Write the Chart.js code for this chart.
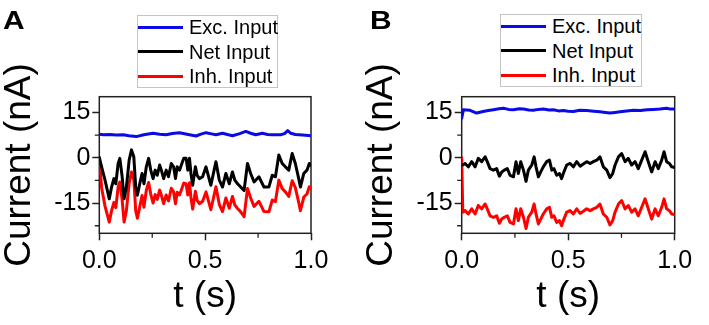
<!DOCTYPE html>
<html><head><meta charset="utf-8">
<script src="https://cdn.jsdelivr.net/npm/chart.js@4/dist/chart.umd.min.js"></script>
<style>
html,body{margin:0;padding:0;background:#fff;}
body{width:709px;height:325px;position:relative;overflow:hidden;font-family:"Liberation Sans",Arial,sans-serif;color:#000;}
canvas{position:absolute;top:0;}
.letter{position:absolute;top:7px;font-weight:bold;font-size:26px;line-height:26px;transform:scaleX(1.15);transform-origin:0 0;}
.legend{position:absolute;border:1px solid #c4c4c4;box-sizing:border-box;background:#fff;}
.row{position:absolute;left:0;height:24.5px;display:flex;align-items:center;font-size:20px;line-height:24px;white-space:nowrap;}
.sw{width:45px;height:3px;margin-right:6px;flex:none;}
</style></head><body>
<canvas id="cA" width="354" height="325" style="left:0"></canvas>
<canvas id="cB" width="347" height="325" style="left:362px"></canvas>
<div class="letter" style="left:3px">A</div>
<div class="letter" style="left:370px">B</div>
<div class="legend" id="lgA" style="left:137px;top:15px;width:141px;height:73px"></div>
<div class="legend" id="lgB" style="left:500px;top:14px;width:142px;height:73px"></div>
<script>
// ---------- data ----------
const seriesLabels = ['Exc. Input', 'Net Input', 'Inh. Input'];

// Panel A
const timeExcA = [0,0.02,0.05,0.08,0.113,0.14,0.175,0.21,0.254,0.285,0.316,0.345,0.379,0.42,0.457,0.48,0.504,0.53,0.551,0.582,0.61,0.629,0.66,0.692,0.715,0.739,0.77,0.795,0.817,0.856,0.875,0.89,0.905,0.926,0.96,1.0];
const excA = [7.8,7.6,7.7,7.5,7.6,7.3,7.0,7.6,8.1,7.8,7.6,8.0,8.3,7.7,7.2,7.8,8.3,7.9,7.6,8.1,7.6,7.3,7.9,8.7,8.1,7.6,8.1,7.7,7.6,7.6,8.0,9.0,8.1,7.7,7.5,7.3];
const timeA = [0,0.011,0.027,0.047,0.058,0.069,0.078,0.089,0.097,0.108,0.117,0.128,0.141,0.152,0.163,0.172,0.180,0.191,0.202,0.211,0.222,0.233,0.243,0.254,0.264,0.274,0.285,0.293,0.304,0.316,0.327,0.340,0.351,0.360,0.368,0.379,0.390,0.399,0.410,0.418,0.426,0.433,0.441,0.454,0.462,0.473,0.488,0.504,0.527,0.551,0.567,0.582,0.598,0.614,0.629,0.640,0.653,0.668,0.684,0.700,0.715,0.731,0.754,0.778,0.801,0.817,0.832,0.848,0.864,0.879,0.895,0.911,0.926,0.942,0.950,0.966,0.981,0.992,1.0];
const netA = [0.1,-3.0,-7.4,-13.6,-9.7,-6.9,-8.6,-1.9,-0.2,-6.3,-13.6,-9.7,-0.8,2.6,0.3,-9.7,-12.4,-8.6,-5.2,-8.6,-3.0,-0.2,-4.1,-6.9,-4.1,-5.8,-2.4,-4.1,-6.9,-4.1,-6.3,-1.9,-3.0,-6.9,-3.0,-4.1,-1.9,-0.2,-0.2,-4.1,-0.2,-5.2,-9.1,-3.0,-5.8,-6.9,-6.3,-3.0,-9.1,-1.3,-7.4,-9.7,-5.2,-8.6,-4.7,-7.4,-8.6,-9.7,-10.8,-1.9,-5.2,-8.0,-6.3,-9.7,-9.7,-5.8,-6.3,0.9,-1.9,-3.0,-4.1,1.4,-1.9,-6.9,-9.7,-5.2,-4.1,-1.9,-2.5];
const inhA = [0,-10,-16,-21.3,-17.5,-14.8,-16.5,-9.7,-8.0,-14,-21.3,-17.5,-8.5,-4.7,-7.2,-17.5,-20,-16.2,-12.5,-16.4,-10.8,-8.2,-12,-15,-12.2,-13.8,-10.7,-12.4,-15.2,-12.3,-14.3,-10.1,-11.3,-15.2,-11.4,-12.3,-10.2,-8.4,-8.6,-12.3,-8.3,-13.2,-17,-11.1,-14.1,-15.2,-14.4,-11.3,-17.2,-9.6,-15.5,-17.8,-13.3,-16.7,-12.8,-15.6,-16.8,-17.9,-19.5,-10.2,-13.3,-16.1,-14.4,-17.8,-17.9,-14,-14.5,-7.4,-10.2,-11.3,-12.8,-7.6,-9.9,-14.8,-17.5,-13,-12,-9.6,-10.2];

// Panel B
const timeExcB = [0,0.008,0.039,0.07,0.10,0.125,0.149,0.175,0.196,0.22,0.243,0.27,0.29,0.315,0.336,0.36,0.383,0.41,0.43,0.455,0.477,0.5,0.524,0.555,0.587,0.62,0.649,0.675,0.696,0.72,0.743,0.775,0.806,0.84,0.869,0.9,0.931,0.962,0.98,1.0];
const excB = [13.1,15.9,15.7,14.8,15.3,15.6,15.9,16.2,16.4,16.0,15.9,16.2,16.1,15.8,15.7,16.0,16.1,15.8,15.9,15.5,15.6,15.4,15.3,15.7,15.6,15.4,15.2,15.0,14.8,15.0,15.2,15.5,15.7,15.6,15.9,16.0,16.1,16.4,16.1,16.1];
const timeB = [0,0.005,0.016,0.031,0.047,0.063,0.078,0.094,0.110,0.120,0.133,0.149,0.164,0.177,0.188,0.200,0.214,0.227,0.243,0.255,0.266,0.277,0.290,0.302,0.313,0.329,0.340,0.349,0.360,0.371,0.383,0.399,0.412,0.423,0.433,0.446,0.459,0.469,0.477,0.493,0.509,0.524,0.540,0.556,0.571,0.587,0.603,0.618,0.634,0.649,0.665,0.681,0.696,0.709,0.720,0.736,0.751,0.767,0.782,0.798,0.814,0.829,0.845,0.861,0.876,0.892,0.908,0.923,0.939,0.950,0.962,0.975,0.986,1.0];
const netB = [-2.4,-2.4,-1.9,-3.0,-1.3,-3.0,-0.2,-1.3,0.3,-1.3,-3.6,-4.1,-3.6,-6.1,-4.7,-4.1,-3.6,-5.8,-6.3,-1.3,-5.2,-1.3,-4.1,-7.8,-4.1,-2.4,0.3,-3.0,-6.3,-4.7,-3.0,-1.3,-0.8,-4.1,-3.6,-5.8,-5.2,-6.9,-5.2,-2.4,-1.9,-3.0,-1.3,-2.8,-2.1,-1.3,-1.9,-1.3,-0.8,0.3,-3.0,-4.1,-6.6,-5.2,-2.4,0.3,1.4,-1.3,-0.2,-2.4,-1.3,-3.6,-0.8,2.0,-1.3,-4.7,-1.3,-3.6,-0.8,2.0,-1.3,-1.9,-3.0,-3.2];
const inhB = [0,-18.0,-17.5,-18.6,-16.9,-18.6,-15.8,-16.9,-15.3,-16.9,-19.2,-19.7,-19.2,-21.7,-20.3,-19.7,-19.2,-21.4,-21.9,-16.9,-20.8,-16.9,-19.7,-23.4,-19.7,-18.0,-15.3,-18.6,-21.9,-20.3,-18.6,-16.9,-16.4,-19.7,-19.2,-21.4,-20.8,-22.5,-20.8,-18.0,-17.5,-18.6,-16.9,-18.4,-17.7,-16.9,-17.5,-16.9,-16.4,-15.3,-18.6,-19.7,-22.2,-20.8,-18.0,-15.3,-14.2,-16.9,-15.8,-18.0,-16.9,-19.2,-16.4,-13.6,-16.9,-20.3,-16.9,-19.2,-16.4,-13.6,-16.9,-17.5,-18.6,-18.8];

// Axes
const xMajor = [0, 0.5, 1.0];
const xMajorLabels = ['0.0', '0.5', '1.0'];
const xMinor = [0.25, 0.75];
const yMajor = [-15, 0, 15];
const yMajorLabels = ['-15', '0', '15'];
const yMinor = [-22.5, -7.5, 7.5];
const yMin = -25, yMax = 20.2;
const xTitle = 't (s)';
const yTitle = 'Current (nA)';
const colors = ['#0a0ae6', '#000000', '#ff0000'];

// ---------- chart ----------
const FONT = "'Liberation Sans', Arial, sans-serif";
const pts = (ts, vs) => ts.map((t, i) => ({x: t, y: vs[i]}));

const framePlugin = {
  id: 'frame',
  beforeDatasetsDraw(chart) {
    const {ctx, chartArea: a, scales: {x, y}} = chart;
    ctx.save();
    ctx.strokeStyle = '#222';
    ctx.lineWidth = 1.5;
    ctx.strokeRect(a.left, a.top, a.right - a.left, a.bottom - a.top);
    ctx.lineWidth = 1.3;
    ctx.beginPath();
    xMinor.forEach(v => { const p = x.getPixelForValue(v); ctx.moveTo(p, a.bottom); ctx.lineTo(p, a.bottom + 4.5); });
    yMinor.forEach(v => { const p = y.getPixelForValue(v); ctx.moveTo(a.left, p); ctx.lineTo(a.left - 4.5, p); });
    ctx.stroke();
    ctx.restore();
  }
};

function makeChart(id, yWidth, rightPad, sets) {
  return new Chart(document.getElementById(id), {
    type: 'line',
    data: {
      datasets: sets.map((d, i) => ({
        label: seriesLabels[i], data: d, borderColor: colors[i], backgroundColor: colors[i],
        borderWidth: 3, borderJoinStyle: 'round', borderCapStyle: 'round',
        pointRadius: 0, tension: 0, fill: false
      }))
    },
    options: {
      responsive: false, animation: false, events: [],
      layout: {padding: {top: 96.7, right: rightPad, left: 0, bottom: 0}},
      plugins: {legend: {display: false}, tooltip: {enabled: false}},
      scales: {
        x: {
          type: 'linear', min: 0, max: 1,
          afterFit: s => { s.height = 91.7; },
          afterBuildTicks: s => { s.ticks = xMajor.map(v => ({value: v})); },
          grid: {drawOnChartArea: false, drawTicks: true, tickLength: 7, tickWidth: 1.5, tickColor: '#222'},
          border: {display: false},
          ticks: {autoSkip: false, maxRotation: 0, padding: 8.5, color: '#000',
            font: {family: FONT, size: 25, lineHeight: 1},
            callback: (v, i) => xMajorLabels[i]},
          title: {display: true, text: xTitle, color: '#000',
            font: {family: FONT, size: 37, lineHeight: 1}, padding: {top: 0, bottom: 9.5}}
        },
        y: {
          type: 'linear', min: yMin, max: yMax,
          afterFit: s => { s.width = yWidth; },
          afterBuildTicks: s => { s.ticks = yMajor.map(v => ({value: v})); },
          grid: {drawOnChartArea: false, drawTicks: true, tickLength: 7, tickWidth: 1.5, tickColor: '#222'},
          border: {display: false},
          ticks: {autoSkip: false, padding: 2, color: '#000',
            font: {family: FONT, size: 25, lineHeight: 1},
            callback: (v, i) => yMajorLabels[i]},
          title: {display: true, text: yTitle, color: '#000',
            font: {family: FONT, size: 37, lineHeight: 1}, padding: {top: 1.7, bottom: 0}}
        }
      }
    },
    plugins: [framePlugin]
  });
}

const chartA = makeChart('cA', 99.3, 43, [pts(timeExcA, excA), pts(timeA, netA), pts(timeA, inhA)]);
const chartB = makeChart('cB', 99.7, 34.3, [pts(timeExcB, excB), pts(timeB, netB), pts(timeB, inhB)]);

function buildLegend(chart, el) {
  chart.data.datasets.forEach((ds, i) => {
    const row = document.createElement('div');
    row.className = 'row';
    row.style.top = (-1.2 + i * 24.5) + 'px';
    const sw = document.createElement('div');
    sw.className = 'sw';
    sw.style.background = ds.borderColor;
    const tx = document.createElement('span');
    tx.textContent = ds.label;
    row.appendChild(sw); row.appendChild(tx);
    el.appendChild(row);
  });
}
buildLegend(chartA, document.getElementById('lgA'));
buildLegend(chartB, document.getElementById('lgB'));
</script>
</body></html>
